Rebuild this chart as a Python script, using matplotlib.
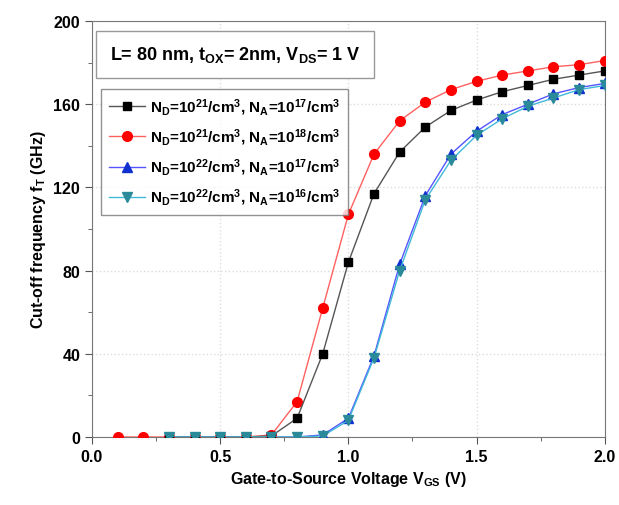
import numpy as np
import matplotlib
matplotlib.use("Agg")
import matplotlib.pyplot as plt

plt.rcParams['font.family'] = ['Liberation Sans', 'DejaVu Sans']
plt.rcParams['font.weight'] = 'bold'
plt.rcParams['mathtext.fontset'] = 'custom'
plt.rcParams['mathtext.rm'] = 'Liberation Sans:bold'
plt.rcParams['mathtext.it'] = 'Liberation Sans:bold'
plt.rcParams['mathtext.bf'] = 'Liberation Sans:bold'

# ----------------------------
# Data
# ----------------------------
vgs_red = [0.1, 0.2, 0.3, 0.4, 0.5, 0.6, 0.7, 0.8, 0.9, 1.0, 1.1, 1.2, 1.3, 1.4, 1.5, 1.6, 1.7, 1.8, 1.9, 2.0]
ft_red = [0, 0, 0, 0, 0, 0, 1, 17, 62, 107, 136, 152, 161, 167, 171, 174, 176, 178, 179, 181]

vgs = [0.3, 0.4, 0.5, 0.6, 0.7, 0.8, 0.9, 1.0, 1.1, 1.2, 1.3, 1.4, 1.5, 1.6, 1.7, 1.8, 1.9, 2.0]
ft_black = [0, 0, 0, 0, 0.5, 9, 40, 84, 117, 137, 149, 157, 162, 166, 169, 172, 174, 176]
ft_blue = [0, 0, 0, 0, 0, 0, 1, 9, 39, 83, 116, 136, 147, 155, 160, 165, 168, 170]
ft_teal = [0, 0, 0, 0, 0, 0, 0.5, 8, 38, 80, 114, 133, 145, 153, 159, 163, 167, 169]

labels = [
    r'$\mathregular{N_D}$=10$^{21}$/cm$^3$, $\mathregular{N_A}$=10$^{17}$/cm$^3$',
    r'$\mathregular{N_D}$=10$^{21}$/cm$^3$, $\mathregular{N_A}$=10$^{18}$/cm$^3$',
    r'$\mathregular{N_D}$=10$^{22}$/cm$^3$, $\mathregular{N_A}$=10$^{17}$/cm$^3$',
    r'$\mathregular{N_D}$=10$^{22}$/cm$^3$, $\mathregular{N_A}$=10$^{16}$/cm$^3$',
]

# ----------------------------
# Plot
# ----------------------------
fig = plt.figure(figsize=(6.19, 5.06), dpi=100)
ax = fig.add_axes([0.1486, 0.1344, 0.8284, 0.8221])

ax.plot(vgs, ft_black, color='#555555', lw=1, marker='s', ms=6,
        mfc='black', mec='black', label=labels[0], zorder=4)
ax.plot(vgs_red, ft_red, color='#ff6060', lw=1, marker='o', ms=7,
        mfc='#ff0000', mec='#ff0000', label=labels[1], zorder=3)
ax.plot(vgs, ft_blue, color='#5555ff', lw=1, marker='^', ms=7.5,
        mfc='#1030d0', mec='#1030d0', label=labels[2], zorder=3)
ax.plot(vgs, ft_teal, color='#40b8d8', lw=1, marker='v', ms=7.5,
        mfc='#2a8a9a', mec='#2a8a9a', label=labels[3], zorder=4)

ax.set_xlim(0, 2.0)
ax.set_ylim(0, 200)
ax.set_xticks([0.0, 0.5, 1.0, 1.5, 2.0])
ax.set_xticks([0.25, 0.75, 1.25, 1.75], minor=True)
ax.set_yticks([0, 40, 80, 120, 160, 200])
ax.set_yticks([20, 60, 100, 140, 180], minor=True)
ax.xaxis.set_major_formatter(matplotlib.ticker.FormatStrFormatter('%.1f'))
ax.tick_params(which='both', direction='out', labelsize=11.5, color='#555555')
ax.tick_params(which='major', length=5)
ax.tick_params(which='minor', length=3)
for lab in ax.get_xticklabels() + ax.get_yticklabels():
    lab.set_fontweight('bold')

ax.grid(True, which='major', color='#dddddd', ls=':', lw=1)
for s in ax.spines.values():
    s.set_color('#777777')

ax.set_xlabel(r'Gate-to-Source Voltage V$_{\mathregular{GS}}$ (V)', fontsize=11.5, fontweight='bold')
ax.set_ylabel(r'Cut-off frequency f$_{\mathregular{T}}$ (GHz)', fontsize=11.5, fontweight='bold')

ax.text(0.035, 0.92, r'L= 80 nm, t$_{\mathregular{OX}}$= 2nm, V$_{\mathregular{DS}}$= 1 V',
        transform=ax.transAxes, fontsize=13, fontweight='bold', va='center', ha='left',
        bbox=dict(boxstyle='square,pad=0.75', fc='white', ec='#999999', lw=1))

leg = ax.legend(loc='upper left', bbox_to_anchor=(0.003, 0.855), fontsize=11,
                frameon=True, fancybox=False, edgecolor='#777777',
                handlelength=2.4, borderpad=0.5, labelspacing=0.62, handletextpad=0.3)
leg.get_frame().set_linewidth(1)

fig.savefig("out.png", dpi=100)
